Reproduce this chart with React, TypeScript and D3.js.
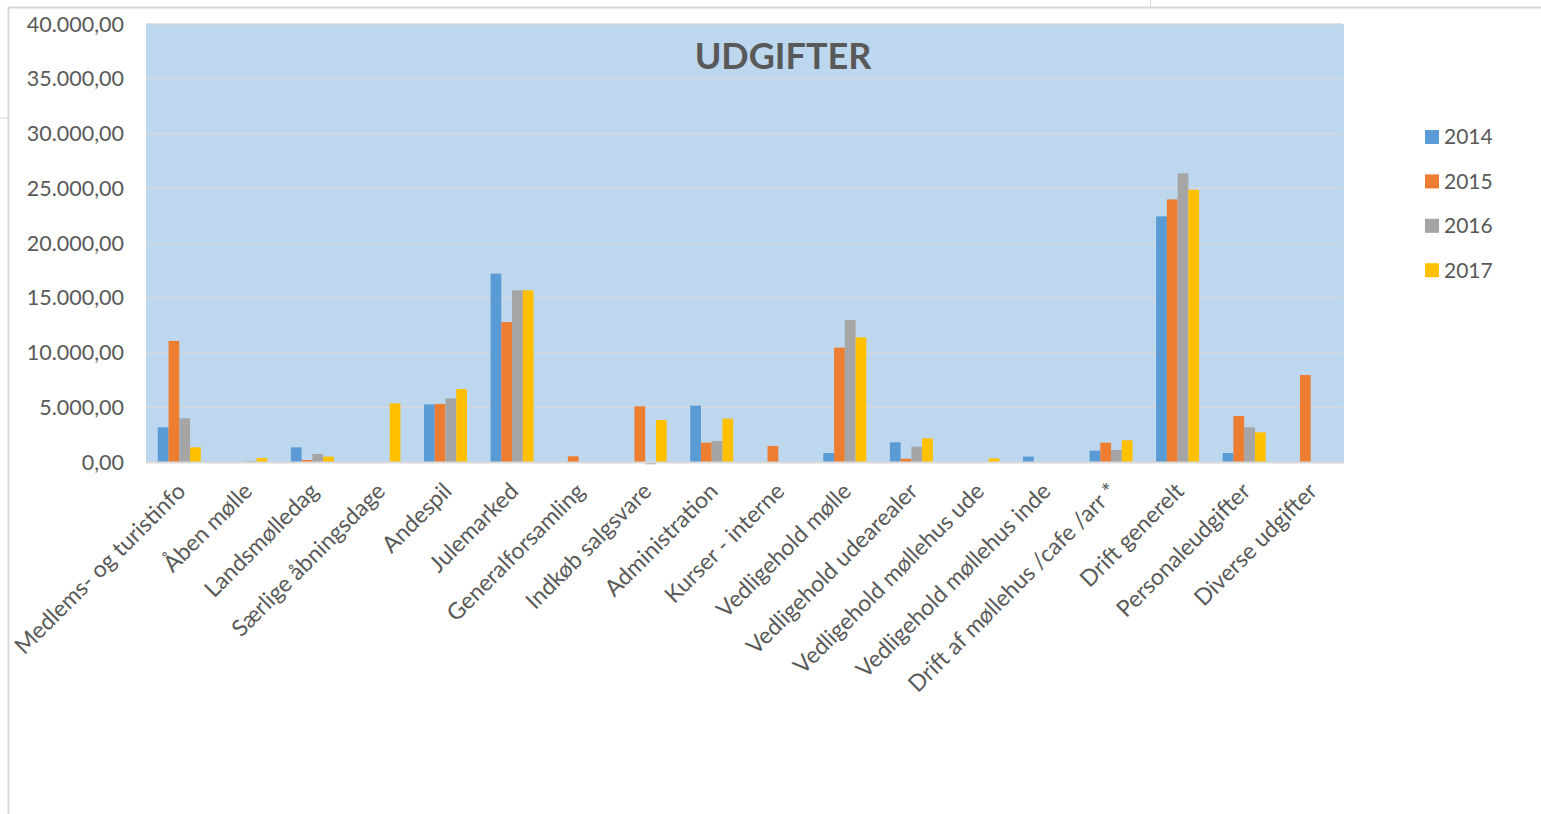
import React from "react";
import * as d3 from "d3";

const categories = [
  "Medlems- og turistinfo",
  "Åben mølle",
  "Landsmølledag",
  "Særlige åbningsdage",
  "Andespil",
  "Julemarked",
  "Generalforsamling",
  "Indkøb salgsvare",
  "Administration",
  "Kurser - interne",
  "Vedligehold mølle",
  "Vedligehold udearealer",
  "Vedligehold møllehus ude",
  "Vedligehold møllehus inde",
  "Drift af møllehus /cafe /arr *",
  "Drift generelt",
  "Personaleudgifter",
  "Diverse udgifter",
];

const years = ["2014", "2015", "2016", "2017"];

const values2014 = [3170, 0, 1340, 0, 5265, 17200, 0, 0, 5145, 0, 820, 1800, 0, 490, 1035, 22430, 820, 0];
const values2015 = [11050, 0, 180, 0, 5295, 12780, 520, 5085, 1765, 1460, 10440, 300, 0, 0, 1765, 23980, 4200, 7945];
const values2016 = [3990, 90, 730, 0, 5810, 15680, 0, -210, 1920, 0, 12965, 1400, 0, 0, 1095, 26355, 3165, 0];
const values2017 = [1340, 365, 490, 5355, 6665, 15680, 0, 3835, 3955, 0, 11385, 2160, 335, 0, 1980, 24860, 2710, 0];

const yTicks = [0, 5000, 10000, 15000, 20000, 25000, 30000, 35000, 40000];

const colors = ["#5B9BD5", "#ED7D31", "#A5A5A5", "#FFC000"];

const FONT = "Lato, 'Open Sans', sans-serif";
const TEXT = "#595959";

export default function App() {
  const W = 1541;
  const H = 814;
  const plot = { left: 146, right: 1344, top: 24, bottom: 462 };

  const series = [values2014, values2015, values2016, values2017];

  const x0 = d3
    .scaleBand<string>()
    .domain(categories)
    .range([plot.left, plot.right])
    .paddingInner(0)
    .paddingOuter(0);

  // Excel gap width 219%
  const x1 = d3
    .scaleBand<string>()
    .domain(years)
    .range([0, x0.bandwidth()])
    .paddingInner(0)
    .paddingOuter(2.19 / 2);

  const y = d3.scaleLinear().domain([0, 40000]).range([plot.bottom, plot.top]);

  const locale = d3.formatLocale({
    decimal: ",",
    thousands: ".",
    grouping: [3],
    currency: ["", " kr"],
  });
  const fmt = locale.format(",.2f");

  return (
    <svg
      width={W}
      height={H}
      style={{ position: "absolute", left: 0, top: 0, background: "#fff" }}
      fontFamily={FONT}
    >
      {/* Excel frame lines */}
      <line x1={8.5} x2={8.5} y1={7} y2={H} stroke="#D9D9D9" strokeWidth={2} />
      <line x1={8} x2={W} y1={7.5} y2={7.5} stroke="#D9D9D9" strokeWidth={2} />
      <line x1={0} x2={8} y1={118} y2={118} stroke="#D9D9D9" strokeWidth={1} />
      <line x1={1150.5} x2={1150.5} y1={0} y2={7} stroke="#D9D9D9" strokeWidth={1} />

      {/* plot background */}
      <rect
        x={plot.left}
        y={plot.top}
        width={plot.right - plot.left}
        height={plot.bottom - plot.top}
        fill="#BDD7EE"
      />

      {/* gridlines */}
      {yTicks.slice(1).map((t) => (
        <line
          key={t}
          x1={plot.left}
          x2={plot.right - 2}
          y1={y(t)}
          y2={y(t)}
          stroke="#D5D9DE"
          strokeWidth={1.6}
        />
      ))}

      {/* bars */}
      {series.map((vals, si) =>
        vals.map((v, ci) => {
          const bx = (x0(categories[ci]) as number) + (x1(years[si]) as number);
          const y0 = y(0);
          const yv = y(v);
          const top = Math.min(y0, yv);
          const h = Math.abs(y0 - yv);
          if (h <= 0) return null;
          return (
            <rect
              key={`${si}-${ci}`}
              x={bx}
              y={top}
              width={x1.bandwidth()}
              height={h}
              fill={colors[si]}
            />
          );
        })
      )}

      {/* baseline axis */}
      <line
        x1={plot.left}
        x2={plot.right}
        y1={y(0) + 0.5}
        y2={y(0) + 0.5}
        stroke="#D9D9D9"
        strokeWidth={2}
      />

      {/* y tick labels */}
      {yTicks.map((t) => (
        <text
          key={t}
          x={124}
          y={y(t)}
          dy="0.35em"
          textAnchor="end"
          fontSize={21.5}
          fill={TEXT}
        >
          {fmt(t)}
        </text>
      ))}

      {/* x labels */}
      {categories.map((c) => {
        const cx = (x0(c) as number) + x0.bandwidth() / 2;
        const tx = cx + 2;
        const ty = 487;
        return (
          <text
            key={c}
            x={tx}
            y={ty}
            dy="0.35em"
            textAnchor="end"
            fontSize={23}
            fill={TEXT}
            transform={`rotate(-45, ${tx}, ${ty})`}
          >
            {c}
          </text>
        );
      })}

      {/* title */}
      <text
        x={(plot.left + plot.right) / 2 + 38}
        y={56}
        dy="0.35em"
        textAnchor="middle"
        fontSize={36}
        fontWeight="bold"
        fill={TEXT}
      >
        UDGIFTER
      </text>

      {/* legend */}
      {years.map((yr, i) => {
        const cy = 137 + i * 44.4;
        return (
          <g key={yr}>
            <rect x={1425} y={cy - 7} width={14} height={14} fill={colors[i]} />
            <text x={1444} y={cy} dy="0.35em" fontSize={21} fill={TEXT}>
              {yr}
            </text>
          </g>
        );
      })}
    </svg>
  );
}
